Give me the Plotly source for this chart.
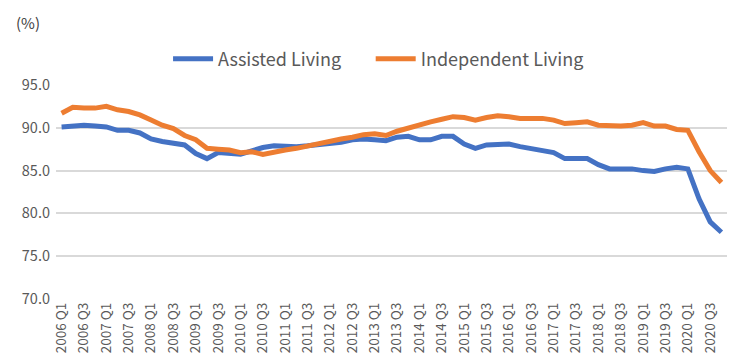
import plotly.graph_objects as go

years = list(range(2006, 2021))
quarters = [f"{y} Q{q}" for y in years for q in range(1, 5)]

assisted = [90.1, 90.2, 90.3, 90.2, 90.1, 89.7, 89.7, 89.4, 88.7, 88.4,
            88.2, 88.0, 87.0, 86.4, 87.1, 87.0, 86.9, 87.3, 87.7, 87.9,
            87.8, 87.8, 87.9, 88.0, 88.1, 88.3, 88.6, 88.7, 88.6, 88.5,
            88.9, 89.0, 88.6, 88.6, 89.0, 89.0, 88.1, 87.6, 88.0, 88.1,
            88.1, 87.8, 87.6, 87.4, 87.1, 86.4, 86.4, 86.4, 85.7, 85.2,
            85.2, 85.2, 85.0, 84.9, 85.2, 85.4, 85.2, 81.7, 79.0, 77.8]

independent = [91.7, 92.4, 92.3, 92.3, 92.5, 92.1, 91.9, 91.5, 90.9, 90.3,
               89.9, 89.1, 88.6, 87.6, 87.5, 87.4, 87.1, 87.2, 86.9, 87.2,
               87.4, 87.6, 87.9, 88.2, 88.5, 88.7, 88.9, 89.2, 89.3, 89.1,
               89.6, 90.0, 90.4, 90.7, 91.0, 91.3, 91.2, 90.9, 91.2, 91.4,
               91.3, 91.1, 91.1, 91.1, 90.9, 90.5, 90.6, 90.7, 90.3, 90.2,
               90.2, 90.3, 90.6, 90.2, 90.2, 89.8, 89.7, 87.2, 85.0, 83.6]

y_ticks = [70, 75, 80, 85, 90, 95]

FONT = "Noto Sans CJK KR, Noto Sans, sans-serif"
GRAY = "#595959"

fig = go.Figure()
fig.add_trace(go.Scatter(x=quarters, y=assisted, mode="lines", name="Assisted Living",
                         line=dict(color="#4472C4", width=5), legend="legend"))
fig.add_trace(go.Scatter(x=quarters, y=independent, mode="lines", name="Independent Living",
                         line=dict(color="#ED7D31", width=5), legend="legend2"))

legend_style = dict(orientation="h", xanchor="left", y=1.121, yanchor="middle",
                    font=dict(size=18, color=GRAY, family=FONT),
                    bgcolor="rgba(0,0,0,0)", itemwidth=40)

# page body has an 8px default margin, so the figure is 742x347
fig.update_layout(
    width=742, height=347,
    margin=dict(l=48, r=23, t=77, b=56),
    paper_bgcolor="white", plot_bgcolor="white",
    font=dict(family=FONT, color=GRAY),
    showlegend=True,
    legend=dict(x=0.167, **legend_style),
    legend2=dict(x=0.469, **legend_style),
    xaxis=dict(type="category", range=[-0.5, len(quarters) - 0.5],
               tickvals=quarters[::2], ticktext=quarters[::2], tickangle=-90,
               tickfont=dict(size=13.5, color=GRAY, family=FONT),
               showgrid=False, showline=False, ticks="", zeroline=False,
               automargin=False),
    yaxis=dict(range=[70, 95], tickvals=y_ticks, tickformat=".1f",
               tickfont=dict(size=14.5, color=GRAY, family=FONT),
               showgrid=True, gridcolor="#D9D9D9", gridwidth=1.5,
               showline=False, zeroline=False, ticks="", ticklabelstandoff=5,
               automargin=False),
    annotations=[dict(text="(%)", xref="paper", yref="paper", x=-0.042, y=1.291,
                      xanchor="center", yanchor="middle", showarrow=False,
                      font=dict(size=15, color="#404040", family=FONT))],
)

fig.write_html("out.html")
